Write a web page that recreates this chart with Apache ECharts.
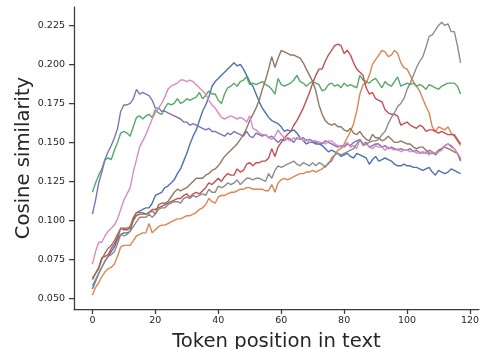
<!DOCTYPE html>
<html>
<head>
<meta charset="utf-8">
<script src="https://cdn.jsdelivr.net/npm/echarts@6/dist/echarts.min.js"></script>
<style>
html,body{margin:0;padding:0;background:#fff;}
#c{width:483px;height:349px;}
</style>
</head>
<body>
<div id="c"></div>
<script>
// Series values (cosine similarity per token position 0..117)
const blue = [.056,.061,.066,.070,.074,.077,.080,.083,.088,.091,.092,.092,.093,.101,.105,.106,.107,.108,.108,.111,.116,.117,.118,.121,.122,.124,.126,.130,.133,.138,.143,.149,.154,.158,.164,.170,.174,.179,.186,.189,.191,.193,.195,.197,.199,.201,.199,.200,.197,.193,.189,.186,.181,.176,.172,.169,.166,.164,.163,.162,.160,.157,.158,.157,.158,.156,.153,.151,.149,.150,.150,.149,.149,.148,.146,.144,.145,.144,.143,.141,.142,.143,.141,.140,.143,.142,.141,.140,.136,.139,.141,.138,.139,.140,.139,.138,.136,.135,.135,.136,.135,.135,.134,.134,.133,.132,.133,.134,.131,.129,.132,.131,.130,.131,.133,.132,.131,.130];
const orange = [.052,.057,.060,.064,.067,.069,.070,.072,.077,.083,.084,.084,.084,.087,.090,.091,.092,.092,.098,.092,.094,.096,.097,.097,.098,.099,.100,.101,.101,.102,.103,.103,.104,.105,.107,.108,.110,.114,.112,.111,.115,.116,.116,.117,.118,.118,.119,.120,.120,.121,.121,.120,.120,.120,.120,.119,.119,.123,.118,.124,.126,.127,.126,.127,.128,.129,.130,.130,.131,.131,.132,.131,.132,.133,.135,.136,.140,.142,.145,.146,.149,.153,.157,.162,.170,.181,.187,.188,.193,.200,.203,.206,.209,.208,.205,.206,.209,.207,.201,.198,.197,.193,.189,.186,.183,.178,.173,.169,.160,.157,.160,.159,.158,.160,.156,.154,.151,.148];
const green = [.118,.124,.129,.133,.139,.140,.139,.145,.150,.156,.157,.156,.154,.160,.166,.167,.165,.167,.168,.166,.171,.169,.168,.172,.175,.174,.175,.178,.175,.176,.178,.177,.178,.179,.182,.178,.180,.183,.181,.181,.177,.175,.181,.185,.186,.188,.186,.189,.190,.192,.187,.188,.187,.188,.189,.187,.186,.184,.181,.191,.187,.186,.187,.188,.190,.193,.189,.188,.186,.188,.189,.188,.187,.183,.184,.187,.188,.186,.187,.185,.188,.186,.187,.186,.185,.193,.190,.189,.188,.190,.191,.188,.185,.189,.187,.186,.189,.192,.186,.187,.188,.187,.188,.186,.187,.186,.184,.187,.186,.185,.184,.186,.187,.188,.188,.188,.186,.181];
const red = [.063,.066,.070,.076,.077,.078,.082,.085,.089,.095,.094,.094,.095,.100,.103,.104,.104,.104,.105,.107,.107,.108,.109,.110,.111,.112,.113,.114,.114,.116,.117,.115,.117,.118,.117,.119,.121,.124,.123,.125,.127,.125,.128,.130,.129,.129,.133,.131,.132,.136,.137,.135,.137,.137,.138,.138,.140,.146,.141,.147,.150,.153,.155,.157,.161,.164,.168,.172,.177,.182,.188,.193,.197,.197,.202,.206,.209,.212,.213,.212,.207,.209,.206,.201,.197,.195,.193,.185,.181,.182,.178,.177,.176,.171,.169,.168,.168,.167,.161,.162,.163,.161,.160,.159,.161,.160,.157,.158,.158,.157,.156,.157,.156,.155,.155,.155,.152,.149];
const purple = [.104,.113,.124,.131,.139,.144,.148,.153,.159,.170,.174,.174,.175,.178,.184,.181,.182,.181,.180,.177,.172,.172,.170,.170,.169,.168,.167,.166,.165,.163,.163,.161,.162,.161,.160,.159,.158,.159,.157,.157,.156,.155,.154,.156,.155,.157,.156,.155,.154,.157,.154,.153,.156,.155,.154,.155,.153,.154,.152,.150,.152,.151,.153,.152,.150,.153,.152,.153,.151,.152,.151,.150,.150,.149,.151,.150,.149,.148,.147,.148,.147,.149,.148,.150,.151,.152,.149,.150,.147,.148,.149,.149,.147,.148,.146,.147,.146,.145,.146,.145,.145,.146,.144,.145,.143,.144,.143,.145,.144,.142,.144,.146,.148,.149,.148,.146,.143,.139];
const brown = [.062,.066,.069,.075,.079,.082,.084,.087,.091,.095,.095,.095,.096,.102,.105,.105,.105,.104,.105,.106,.104,.110,.111,.111,.112,.115,.118,.120,.119,.120,.121,.123,.125,.127,.127,.127,.129,.130,.132,.133,.135,.138,.141,.143,.145,.147,.149,.152,.155,.159,.164,.168,.172,.177,.184,.190,.197,.205,.198,.204,.209,.208,.207,.206,.206,.205,.204,.201,.197,.193,.189,.183,.174,.168,.164,.162,.161,.162,.160,.160,.158,.157,.159,.156,.155,.157,.154,.152,.151,.155,.153,.153,.151,.152,.154,.152,.150,.150,.151,.150,.149,.149,.147,.146,.147,.147,.145,.143,.143,.143,.145,.146,.147,.146,.145,.144,.143,.138];
const pink = [.072,.080,.086,.086,.090,.093,.095,.097,.101,.107,.113,.117,.121,.131,.139,.147,.151,.155,.160,.165,.169,.172,.175,.179,.184,.186,.187,.188,.190,.190,.189,.190,.189,.187,.185,.183,.181,.177,.174,.172,.169,.166,.165,.166,.167,.166,.165,.166,.165,.163,.167,.159,.158,.156,.155,.155,.153,.152,.154,.158,.155,.153,.152,.151,.153,.152,.153,.151,.152,.150,.151,.151,.150,.150,.149,.151,.151,.149,.148,.147,.148,.150,.147,.148,.146,.152,.149,.149,.147,.146,.148,.147,.147,.145,.147,.146,.145,.146,.144,.145,.145,.144,.145,.143,.144,.143,.144,.142,.144,.143,.144,.145,.148,.149,.147,.146,.143,.140];
const gray = [.058,.062,.066,.070,.074,.077,.078,.080,.085,.091,.090,.091,.093,.096,.099,.102,.102,.102,.104,.102,.104,.107,.108,.108,.110,.111,.112,.112,.111,.114,.115,.114,.116,.115,.116,.117,.116,.120,.118,.118,.122,.121,.122,.124,.123,.124,.126,.123,.125,.127,.127,.126,.127,.127,.126,.125,.130,.127,.132,.135,.134,.135,.136,.137,.138,.136,.135,.137,.136,.135,.137,.135,.137,.136,.134,.137,.138,.142,.143,.142,.143,.144,.145,.146,.149,.152,.148,.149,.150,.151,.151,.152,.155,.157,.162,.166,.169,.173,.175,.178,.184,.188,.193,.198,.202,.205,.211,.218,.219,.222,.225,.227,.225,.226,.221,.221,.212,.201];

const xTicks = [0, 20, 40, 60, 80, 100, 120];
const yTicks = [0.050, 0.075, 0.100, 0.125, 0.150, 0.175, 0.200, 0.225];

const seriesList = [
  {data: blue, color: '#4C72B0'},
  {data: orange, color: '#DD8452'},
  {data: green, color: '#55A868'},
  {data: red, color: '#C44E52'},
  {data: purple, color: '#8172B3'},
  {data: brown, color: '#937860'},
  {data: pink, color: '#DA8BC3'},
  {data: gray, color: '#8C8C8C'}
];

const font = 'DejaVu Sans';
const chart = echarts.init(document.getElementById('c'), null, {renderer: 'canvas'});
chart.setOption({
  animation: false,
  backgroundColor: '#ffffff',
  grid: {left: 74, right: 4, top: 7, bottom: 40, containLabel: false, outerBoundsMode: 'none'},
  xAxis: {
    type: 'value', min: -5.85, max: 122.85,
    name: 'Token position in text', nameLocation: 'middle', nameGap: 23, nameMoveOverlap: false,
    nameTextStyle: {fontFamily: font, fontSize: 19.6, color: '#262626'},
    axisLine: {show: true, onZero: false, lineStyle: {color: '#3a3a3a', width: 1.25}},
    axisTick: {show: true, length: 5, customValues: xTicks, lineStyle: {color: '#3a3a3a', width: 1.25}},
    axisLabel: {customValues: xTicks, margin: 7, fontFamily: font, fontSize: 9.5, color: '#262626'},
    splitLine: {show: false}
  },
  yAxis: {
    type: 'value', min: 0.0432, max: 0.2368,
    name: 'Cosine similarity', nameLocation: 'middle', nameGap: 40, nameRotate: 90, nameMoveOverlap: false,
    nameTextStyle: {fontFamily: font, fontSize: 19.6, color: '#262626'},
    axisLine: {show: true, onZero: false, lineStyle: {color: '#3a3a3a', width: 1.25}},
    axisTick: {show: true, length: 5, customValues: yTicks, lineStyle: {color: '#3a3a3a', width: 1.25}},
    axisLabel: {customValues: yTicks, margin: 9, fontFamily: font, fontSize: 9.5, color: '#262626',
      formatter: v => v.toFixed(3)},
    splitLine: {show: false}
  },
  series: seriesList.map(s => ({
    type: 'line',
    data: s.data.map((v, i) => [i, v]),
    showSymbol: false,
    lineStyle: {color: s.color, width: 1.4},
    itemStyle: {color: s.color}
  }))
});
</script>
</body>
</html>
